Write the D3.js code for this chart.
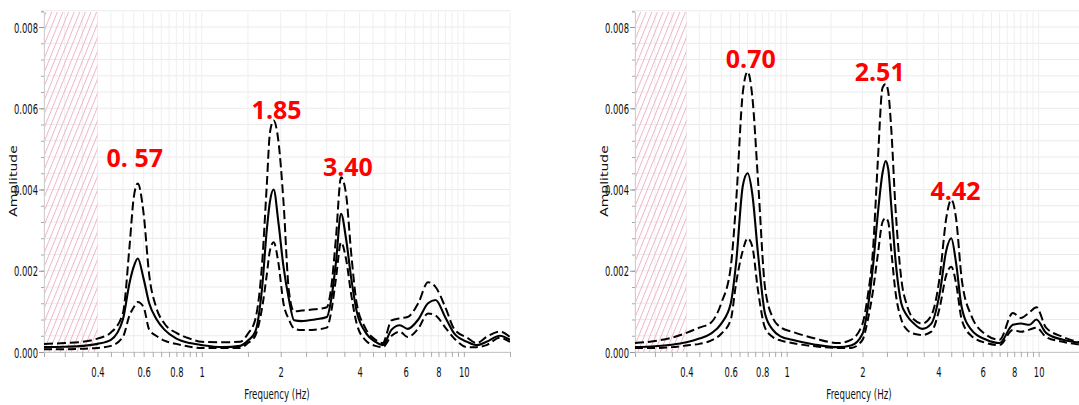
<!DOCTYPE html>
<html><head><meta charset="utf-8">
<script src="https://cdn.jsdelivr.net/npm/d3@7"></script>
<style>body{margin:0;background:#fff}svg{display:block}</style>
</head><body>
<svg id="c" width="1079" height="405"></svg>
<script>
// ---------- Data: left panel ----------
const freqA  = [0.25,0.3,0.35,0.4,0.45,0.5,0.53,0.55,0.57,0.6,0.63,0.67,0.72,0.8,0.9,1.0,1.2,1.4,1.5,1.6,1.7,1.77,1.82,1.88,1.96,2.05,2.15,2.25,2.4,2.7,3.0,3.12,3.25,3.4,3.55,3.72,3.9,4.2,4.6,4.9,5.3,5.7,6.1,6.7,7.3,7.8,8.5,9.2,10.3,11.2,12.2,13.7,15];
const meanA  = [0.00012,0.00013,0.00015,0.0002,0.0003,0.0008,0.0017,0.0021,0.0023,0.0018,0.0012,0.00082,0.00055,0.00033,0.00022,0.00017,0.00012,0.00015,0.00028,0.0005,0.0016,0.003,0.0037,0.004,0.0032,0.0021,0.0013,0.00078,0.00076,0.0008,0.00086,0.0013,0.0022,0.0034,0.0028,0.0018,0.001,0.0005,0.00025,0.00017,0.00055,0.00066,0.00057,0.0008,0.0012,0.00128,0.00085,0.00045,0.00025,0.00017,0.00025,0.0004,0.0003];
const upperA = [0.0002,0.00022,0.00025,0.00033,0.00048,0.00095,0.0026,0.0038,0.00415,0.0034,0.0019,0.0011,0.0007,0.00047,0.00033,0.00025,0.00024,0.00025,0.00045,0.0008,0.0022,0.0041,0.0054,0.0057,0.0052,0.0037,0.0015,0.001,0.00102,0.00105,0.0011,0.0016,0.0028,0.0043,0.0039,0.0024,0.0012,0.0006,0.0003,0.00022,0.00078,0.00083,0.00086,0.0012,0.00172,0.0016,0.0011,0.00056,0.00035,0.00022,0.00037,0.0005,0.00037];
const lowerA = [0.00007,0.00007,0.00008,0.0001,0.00015,0.00037,0.0009,0.0011,0.00123,0.0011,0.00055,0.0004,0.00028,0.0002,0.00013,0.0001,0.0001,0.0001,0.00022,0.0004,0.0011,0.0019,0.0025,0.0027,0.0022,0.0012,0.0008,0.00058,0.00054,0.00055,0.0006,0.001,0.0018,0.0027,0.0023,0.0014,0.0007,0.0003,0.00015,0.00012,0.0004,0.0005,0.00037,0.00058,0.00095,0.0009,0.0006,0.00033,0.00012,0.00012,0.00017,0.00035,0.00025];
const peakTextA = ["0. 57","1.85","3.40"];
const peakFreqA = [0.555,1.93,3.61];
const peakAmpA  = [0.00455,0.00574,0.00433];

// ---------- Data: right panel ----------
const freqB  = [0.25,0.3,0.35,0.4,0.45,0.5,0.55,0.6,0.63,0.67,0.7,0.73,0.77,0.82,0.88,0.95,1.05,1.3,1.6,1.8,2.0,2.1,2.2,2.3,2.4,2.47,2.53,2.6,2.7,2.85,3.0,3.2,3.45,3.75,4.05,4.3,4.5,4.7,4.95,5.4,6.2,7.0,7.9,8.5,9.2,9.8,10.7,12.5,15];
const meanB  = [0.00012,0.00014,0.00018,0.00024,0.00033,0.00045,0.0007,0.0012,0.0022,0.0041,0.0044,0.0039,0.0024,0.00095,0.00055,0.00038,0.0003,0.00018,0.00012,0.00016,0.00045,0.0011,0.0021,0.0034,0.0044,0.0047,0.0045,0.0036,0.0023,0.0012,0.0009,0.0007,0.00057,0.0007,0.00145,0.0025,0.0028,0.0022,0.0011,0.00055,0.0003,0.00022,0.00067,0.0007,0.00067,0.0008,0.00047,0.0003,0.00022];
const upperB = [0.00022,0.00027,0.00035,0.00047,0.0006,0.00072,0.0012,0.0021,0.0037,0.0064,0.0069,0.0063,0.0042,0.0016,0.00085,0.0006,0.0005,0.00033,0.00022,0.0003,0.0007,0.0014,0.0025,0.0047,0.0065,0.0066,0.0064,0.0055,0.0036,0.0018,0.00115,0.0008,0.0007,0.0009,0.00185,0.0033,0.00375,0.0033,0.0018,0.0009,0.00042,0.0003,0.00096,0.00084,0.00098,0.0011,0.0006,0.00037,0.00022];
const lowerB = [0.0001,0.0001,0.00012,0.00016,0.0002,0.00028,0.00045,0.0008,0.0017,0.0025,0.0028,0.0026,0.0015,0.0006,0.00037,0.00028,0.00022,0.00014,0.0001,0.0001,0.0003,0.0008,0.0015,0.0024,0.0032,0.0033,0.0032,0.0025,0.0015,0.0008,0.00055,0.00045,0.00042,0.0005,0.0011,0.0019,0.0021,0.0017,0.0008,0.0004,0.00022,0.00017,0.00054,0.0005,0.00055,0.0006,0.00037,0.00025,0.00017];
const peakTextB = ["0.70","2.51","4.42"];
const peakFreqB = [0.72,2.34,4.68];
const peakAmpB  = [0.00699,0.00667,0.00375];

// ---------- Axes ----------
const xTickLabels = [0.4,0.6,0.8,1,2,4,6,8,10];
const yTickLabels = [0,0.002,0.004,0.006,0.008];
const freqDomain = [0.25,15];
const ampDomain = [0,0.00837];
const hatchLimit = 0.4;

const svg = d3.select("#c");
const defs = svg.append("defs");
const pat = defs.append("pattern").attr("id","hatch").attr("patternUnits","userSpaceOnUse")
  .attr("width",5.2).attr("height",5.2).attr("patternTransform","rotate(22)");
pat.append("line").attr("x1",0.5).attr("y1",0).attr("x2",0.5).attr("y2",5.2)
  .attr("stroke","#ecb2c2").attr("stroke-width",0.9);

// minor ticks (axis structure, not data)
const minorX = [].concat(d3.range(0.25,0.999,0.05), d3.range(1,10.01,0.5), [15]).map(v=>+v.toFixed(2));
const minorY = d3.range(0,0.00841,0.0004);

function panel(id, x0, x1, freq, mean, upper, lower, pText, pFreq, pAmp){
  const x = d3.scaleLog().domain(freqDomain).range([x0,x1]);
  const y = d3.scaleLinear().domain(ampDomain).range([352,12]);
  const g = svg.append("g");
  const clip = defs.append("clipPath").attr("id","clip"+id);
  clip.append("rect").attr("x",x0).attr("y",0).attr("width",x1-x0).attr("height",352);

  // grid
  g.append("g").selectAll("line").data(minorY).join("line")
    .attr("x1",x0).attr("x2",x1).attr("y1",d=>y(d)).attr("y2",d=>y(d))
    .attr("stroke","#ebebeb").attr("stroke-width",1);
  g.append("g").selectAll("line").data(minorX).join("line")
    .attr("x1",d=>x(d)).attr("x2",d=>x(d)).attr("y1",y(ampDomain[1])).attr("y2",y(0))
    .attr("stroke","#efefef").attr("stroke-width",1);

  // hatch
  g.append("rect").attr("x",x(freqDomain[0])).attr("y",y(ampDomain[1]))
    .attr("width",x(hatchLimit)-x(freqDomain[0])).attr("height",y(0)-y(ampDomain[1]))
    .attr("fill","url(#hatch)");

  // x axis
  const xa = g.append("g").attr("transform","translate(0,352)")
    .call(d3.axisBottom(x).tickValues(minorX).tickSize(5).tickFormat(d=>xTickLabels.includes(d)?String(d):""));
  xa.select(".domain").attr("stroke","#c8c8c8");
  xa.selectAll(".tick line").attr("stroke","#aaa");
  xa.selectAll("text").attr("y",25).attr("dy",0)
    .attr("transform","scale(0.6,1)")
    .style("font-family","'DejaVu Sans',sans-serif").style("font-size","14px").attr("fill","#111");

  // y axis
  const ya = g.append("g").attr("transform",`translate(${x0},0)`)
    .call(d3.axisLeft(y).tickValues(minorY).tickSize(3).tickFormat(d=>""));
  ya.select(".domain").attr("stroke","#d0d0d0");
  ya.selectAll(".tick line").attr("stroke","#aaa");
  const yb = g.append("g").attr("transform",`translate(${x0},0)`)
    .call(d3.axisLeft(y).tickValues(yTickLabels).tickSize(5).tickFormat(d3.format(".3f")));
  yb.select(".domain").remove();
  yb.selectAll(".tick line").attr("stroke","#999");
  yb.selectAll("text").attr("x",-6/0.6).attr("dy","0.36em")
    .attr("transform","scale(0.6,1)")
    .style("font-family","'DejaVu Sans',sans-serif").style("font-size","14px").attr("fill","#111");

  // axis titles
  g.append("text").attr("transform",`translate(${(x0+x1)/2},399) scale(0.62,1)`)
    .attr("text-anchor","middle").style("font-family","'DejaVu Sans',sans-serif").style("font-size","14px")
    .attr("fill","#111").text("Frequency (Hz)");
  g.append("text").attr("transform",`translate(${x0-27},181) rotate(-90) scale(1,0.7)`)
    .attr("text-anchor","middle").style("font-family","'DejaVu Sans',sans-serif").style("font-size","14px")
    .attr("fill","#111").text("Amplitude");

  // curves
  const line = vals => d3.line().x((d,i)=>x(freq[i])).y(d=>y(d)).curve(d3.curveMonotoneX)(vals);
  const cg = g.append("g").attr("clip-path",`url(#clip${id})`);
  cg.append("path").attr("d",line(upper)).attr("fill","none").attr("stroke","#000")
    .attr("stroke-width",2).attr("stroke-dasharray","9,4");
  cg.append("path").attr("d",line(lower)).attr("fill","none").attr("stroke","#000")
    .attr("stroke-width",2).attr("stroke-dasharray","8,4");
  cg.append("path").attr("d",line(mean)).attr("fill","none").attr("stroke","#000")
    .attr("stroke-width",2.1);

  // peak labels
  g.append("g").selectAll("text").data(pText).join("text")
    .attr("x",(d,i)=>x(pFreq[i])).attr("y",(d,i)=>y(pAmp[i]))
    .attr("text-anchor","middle").style("font-family","'Open Sans',sans-serif")
    .style("font-weight","bold").style("font-size","25px").attr("fill","#ff0000").text(d=>d);
}

panel("A",44,510,freqA,meanA,upperA,lowerA,peakTextA,peakFreqA,peakAmpA);
panel("B",635,1083,freqB,meanB,upperB,lowerB,peakTextB,peakFreqB,peakAmpB);
</script>
</body></html>
